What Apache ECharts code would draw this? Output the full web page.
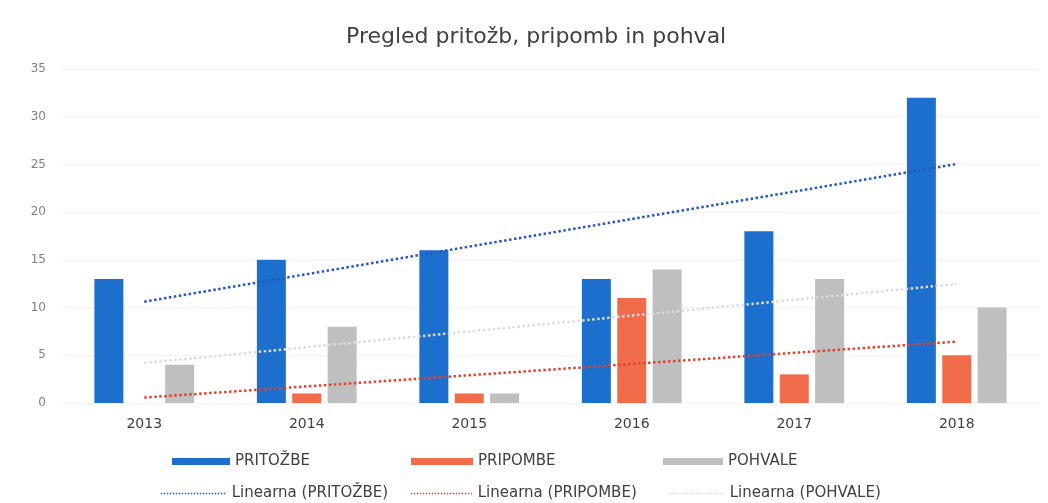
<!DOCTYPE html>
<html>
<head>
<meta charset="utf-8">
<script src="https://cdn.jsdelivr.net/npm/echarts@6/dist/echarts.min.js"></script>
<style>
  html, body { margin: 0; padding: 0; background: #fff; }
  #chart { width: 1048px; height: 503px; }
</style>
</head>
<body>
<div id="chart"></div>
<script>
  // podatki
  var years = ['2013', '2014', '2015', '2016', '2017', '2018'];
  var pritozbe = [13, 15, 16, 13, 18, 32];
  var pripombe = [0, 1, 1, 11, 3, 5];
  var pohvale = [4, 8, 1, 14, 13, 10];
  var yTicks = [0, 5, 10, 15, 20, 25, 30, 35];

  // linearni trend (kot v Excelu)
  function trend(arr) {
    var n = arr.length, sx = 0, sy = 0, sxy = 0, sxx = 0;
    for (var i = 0; i < n; i++) {
      var x = i + 1;
      sx += x; sy += arr[i]; sxy += x * arr[i]; sxx += x * x;
    }
    var k = (n * sxy - sx * sy) / (n * sxx - sx * sx);
    var b = (sy - k * sx) / n;
    return arr.map(function (v, i) { return +(k * (i + 1) + b).toFixed(2); });
  }

  var blue = '#1c6fcc', red = '#f06c4b', gray = '#bfbfbf';
  var font = 'DejaVu Sans';
  var legendText = { fontFamily: font, fontSize: 15, color: '#404040' };

  // ena legenda na element, da so postavljene kot v originalu
  function leg(name, left, top, w, isLine) {
    var l = {
      data: [name], left: left, top: top,
      itemWidth: w, itemHeight: isLine ? 8 : 7, textStyle: legendText
    };
    if (isLine) {
      l.itemStyle = { opacity: 0 };
      l.lineStyle = { width: 1.5 };
    } else {
      l.icon = 'rect';
    }
    return l;
  }

  var chart = echarts.init(document.getElementById('chart'));
  var option = {
    animation: false,
    title: {
      text: 'Pregled pritožb, pripomb in pohval',
      left: 341,
      top: 21,
      textStyle: { fontFamily: font, fontSize: 22, fontWeight: 'normal', color: '#404040' }
    },
    grid: { left: 63, right: 10, top: 69, bottom: 100 },
    legend: [
      leg('PRITOŽBE', 167, 449, 58),
      leg('PRIPOMBE', 406, 449, 62),
      leg('POHVALE', 658, 449, 60),
      leg('Linearna (PRITOŽBE)', 155, 481, 66, true),
      leg('Linearna (PRIPOMBE)', 405, 481, 62, true),
      leg('Linearna (POHVALE)', 663, 481, 56, true)
    ],
    xAxis: {
      type: 'category',
      data: years,
      axisLine: { show: false },
      axisTick: { show: false },
      axisLabel: { fontFamily: font, fontSize: 14, color: '#404040', margin: 14 }
    },
    yAxis: {
      type: 'value',
      min: yTicks[0], max: yTicks[yTicks.length - 1], interval: 5,
      axisLine: { show: false },
      axisTick: { show: false },
      axisLabel: { fontFamily: font, fontSize: 12, color: '#808080', margin: 17 },
      splitLine: { lineStyle: { color: '#f3f3f3' } }
    },
    series: [
      { name: 'PRITOŽBE', type: 'bar', data: pritozbe, barWidth: 29, barGap: '22%', itemStyle: { color: blue } },
      { name: 'PRIPOMBE', type: 'bar', data: pripombe, barWidth: 29, barGap: '22%', itemStyle: { color: red } },
      { name: 'POHVALE', type: 'bar', data: pohvale, barWidth: 29, barGap: '22%', itemStyle: { color: gray } },
      {
        name: 'Linearna (PRITOŽBE)', type: 'line', data: trend(pritozbe), symbol: 'none',
        lineStyle: { color: '#2358c4', width: 2.5, type: 'dotted' }, itemStyle: { color: '#2358c4' }
      },
      {
        name: 'Linearna (PRIPOMBE)', type: 'line', data: trend(pripombe), symbol: 'none',
        lineStyle: { color: '#e2412c', width: 2.5, type: 'dotted' }, itemStyle: { color: '#e2412c' }
      },
      {
        name: 'Linearna (POHVALE)', type: 'line', data: trend(pohvale), symbol: 'none',
        lineStyle: { color: '#dcdcdc', width: 2.5, type: 'dotted' }, itemStyle: { color: '#dcdcdc' }
      }
    ]
  };
  chart.setOption(option);
  window.addEventListener('resize', function () { chart.resize(); });
</script>
</body>
</html>
